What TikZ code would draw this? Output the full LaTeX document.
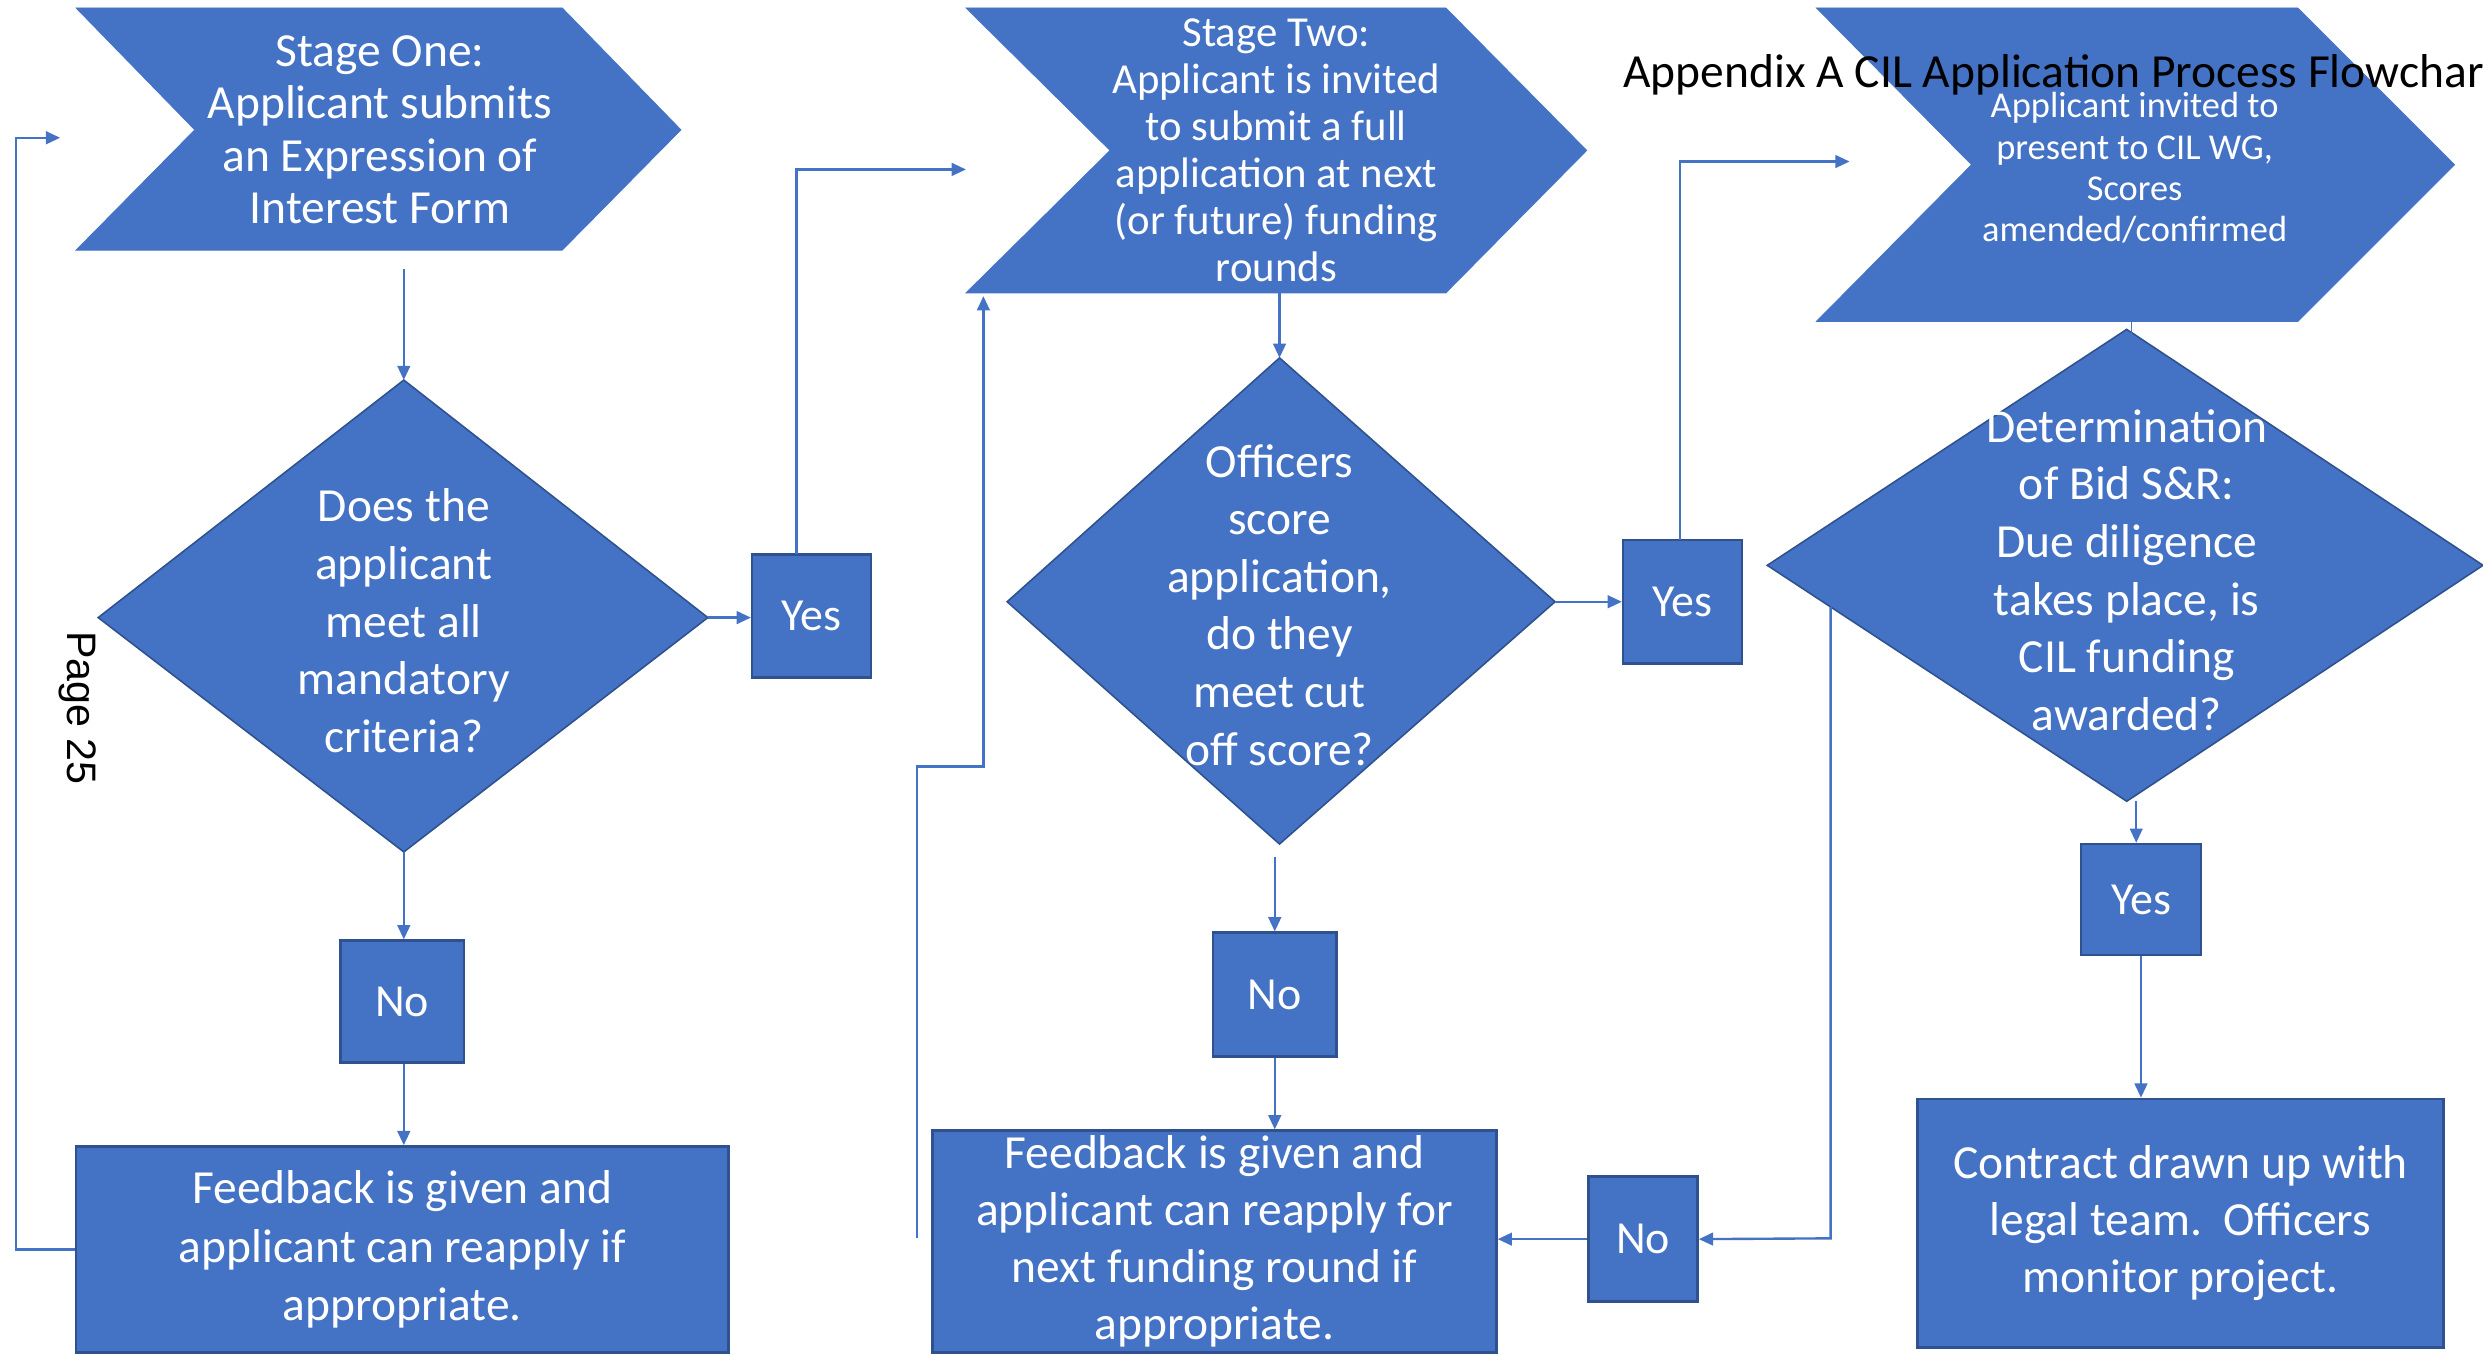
\documentclass[tikz,border=0pt]{standalone}
\usepackage{fontspec}
\setmainfont{Carlito}
\newfontfamily\arialf{Liberation Sans}
\usetikzlibrary{arrows.meta}
\definecolor{cilblue}{HTML}{4472C4}
\definecolor{cilborder}{HTML}{2F528F}
\begin{document}
\begin{tikzpicture}[x=1pt,y=-1pt,
  chev/.style={fill=cilblue, draw=cilblue, line width=0.5pt},
  dia/.style={fill=cilblue, draw=cilborder, line width=1pt},
  lbl/.style={text=white, align=center, inner sep=0pt},
  boxst/.style={rectangle, fill=cilblue, draw=cilborder, line width=1.6pt, text=white, align=center, inner sep=0pt},
  conn/.style={draw=cilblue, line width=1.5pt, -{Triangle[length=9pt,width=8pt]}},
  plainln/.style={draw=cilblue, line width=1.5pt}]
\clip (0,0) rectangle (1568,856);
\useasboundingbox (0,0) rectangle (1568,856);

% ---------- chevrons ----------
\draw[chev] (48,5) -- (355,5) -- (430,82) -- (355,158) -- (48,158) -- (123,82) -- cycle;
\node[lbl, font=\fontsize{30}{33}\selectfont] (s1) at (240,82)
  {Stage One:\\Applicant submits\\an Expression of\\Interest Form};

\draw[chev] (610,5) -- (913,5) -- (1002,95) -- (913,185) -- (610,185) -- (701,95) -- cycle;
\node[lbl, font=\fontsize{27}{29.6}\selectfont] (s2) at (806,95)
  {Stage Two:\\Applicant is invited\\to submit a full\\application at next\\(or future) funding\\rounds};

\draw[chev] (1147,5) -- (1451,5) -- (1550,104) -- (1451,203) -- (1147,203) -- (1245,104) -- cycle;
\node[lbl, font=\fontsize{23}{26}\selectfont] (s3) at (1348,106)
  {Applicant invited to\\present to CIL WG,\\Scores\\amended/confirmed};

% title
\node[anchor=west, inner sep=0pt, font=\fontsize{30}{34}\selectfont] (title) at (1025,47)
  {Appendix A CIL Application Process Flowchart};

% page number
\node[rotate=-90, inner sep=0pt, font=\arialf\fontsize{26}{30}\selectfont] (page) at (49,447) {Page 25};

% ---------- diamonds ----------
\coordinate (d1l) at (62,390); \coordinate (d1t) at (255,240);
\coordinate (d1r) at (447,390); \coordinate (d1b) at (255,538);
\draw[dia] (d1l) -- (d1t) -- (d1r) -- (d1b) -- cycle;
\node[lbl, font=\fontsize{30}{36.5}\selectfont] (q1) at (255,392)
  {Does the\\applicant\\meet all\\mandatory\\criteria?};

\coordinate (d2l) at (636,380); \coordinate (d2t) at (808,226);
\coordinate (d2r) at (982,380); \coordinate (d2b) at (808,533);
\draw[dia] (d2l) -- (d2t) -- (d2r) -- (d2b) -- cycle;
\node[lbl, font=\fontsize{30}{36.4}\selectfont] (q2) at (808,382)
  {Officers\\score\\application,\\do they\\meet cut\\off score?};

\coordinate (d3l) at (1116,357); \coordinate (d3t) at (1343,208);
\coordinate (d3r) at (1568,357); \coordinate (d3b) at (1343,506);
\draw[dia] (d3l) -- (d3t) -- (d3r) -- (d3b) -- cycle;
\node[lbl, font=\fontsize{30}{36.4}\selectfont] (q3) at (1343,360)
  {Determination\\of Bid S\&R:\\Due diligence\\takes place, is\\CIL funding\\awarded?};

% ---------- boxes ----------
\node[boxst, minimum width=75pt, minimum height=78pt, font=\fontsize{29}{33}\selectfont] (yes1) at (512.5,389) {Yes};
\node[boxst, minimum width=78pt, minimum height=77pt, font=\fontsize{29}{33}\selectfont] (no1) at (254,632.5) {No};
\node[boxst, minimum width=412pt, minimum height=130pt, font=\fontsize{30}{37}\selectfont] (fb1) at (254,789)
  {Feedback is given and\\applicant can reapply if\\appropriate.};

\node[boxst, minimum width=75pt, minimum height=78pt, font=\fontsize{29}{33}\selectfont] (yes2) at (1062.5,380) {Yes};
\node[boxst, minimum width=78pt, minimum height=78pt, font=\fontsize{29}{33}\selectfont] (no2) at (805,628) {No};
\node[boxst, minimum width=356pt, minimum height=140pt, font=\fontsize{30}{36}\selectfont] (fb2) at (767,784)
  {Feedback is given and\\applicant can reapply for\\next funding round if\\appropriate.};
\node[boxst, minimum width=69pt, minimum height=79pt, font=\fontsize{29}{33}\selectfont] (no3) at (1037.5,782.5) {No};

\node[boxst, minimum width=76pt, minimum height=70pt, font=\fontsize{29}{33}\selectfont] (yes3) at (1352,568) {Yes};
\node[boxst, minimum width=332pt, minimum height=157pt, font=\fontsize{30}{36}\selectfont] (contract) at (1377,772.5)
  {Contract drawn up with\\legal team.\ \ Officers\\monitor project.};

% ---------- connectors ----------
\coordinate (c1out) at (255,170);
\draw[conn] (c1out) -- (d1t);
\draw[conn] (d1r) -- (yes1.west |- d1r);
\coordinate (s2in) at (610,107);
\coordinate (y1top) at (503,350);
\draw[conn] (y1top) -- (y1top |- s2in) -- (s2in);
\draw[conn] (d1b) -- (d1b |- no1.north);
\draw[conn] (d1b |- no1.south) -- (d1b |- fb1.north);
\coordinate (s1in) at (38,87);
\draw[conn] (fb1.west) -- (10,789) -- (10,87) -- (s1in);

\coordinate (c2out) at (808,185);
\draw[conn] (c2out) -- (d2t);
\draw[conn] (d2r) -- (yes2.west |- d2r);
\coordinate (s3in) at (1168,102);
\coordinate (y2top) at (1061,341);
\draw[conn] (y2top) -- (y2top |- s3in) -- (s3in);
\coordinate (d2out) at (805,541);
\draw[conn] (d2out) -- (d2out |- no2.north);
\draw[conn] (no2.south) -- (no2.south |- fb2.north);
\coordinate (loopstart) at (579,782);
\coordinate (s2bl) at (621,187);
\draw[conn] (loopstart) -- (579,484) -- (621,484) -- (s2bl);

\coordinate (c3out) at (1346,203);
\coordinate (d3in) at (1346,211);
\draw[plainln, line width=1pt] (c3out) -- (d3in);
\coordinate (d3out) at (1349,506);
\draw[conn] (d3out) -- (d3out |- yes3.north);
\draw[conn] (yes3.south) -- (yes3.south |- contract.north);
\coordinate (d3side) at (1156,383);
\draw[conn] (d3side) -- (1156,782) -- (no3.east);
\draw[conn] (no3.west) -- (fb2.east |- no3.west);
\end{tikzpicture}
\end{document}
